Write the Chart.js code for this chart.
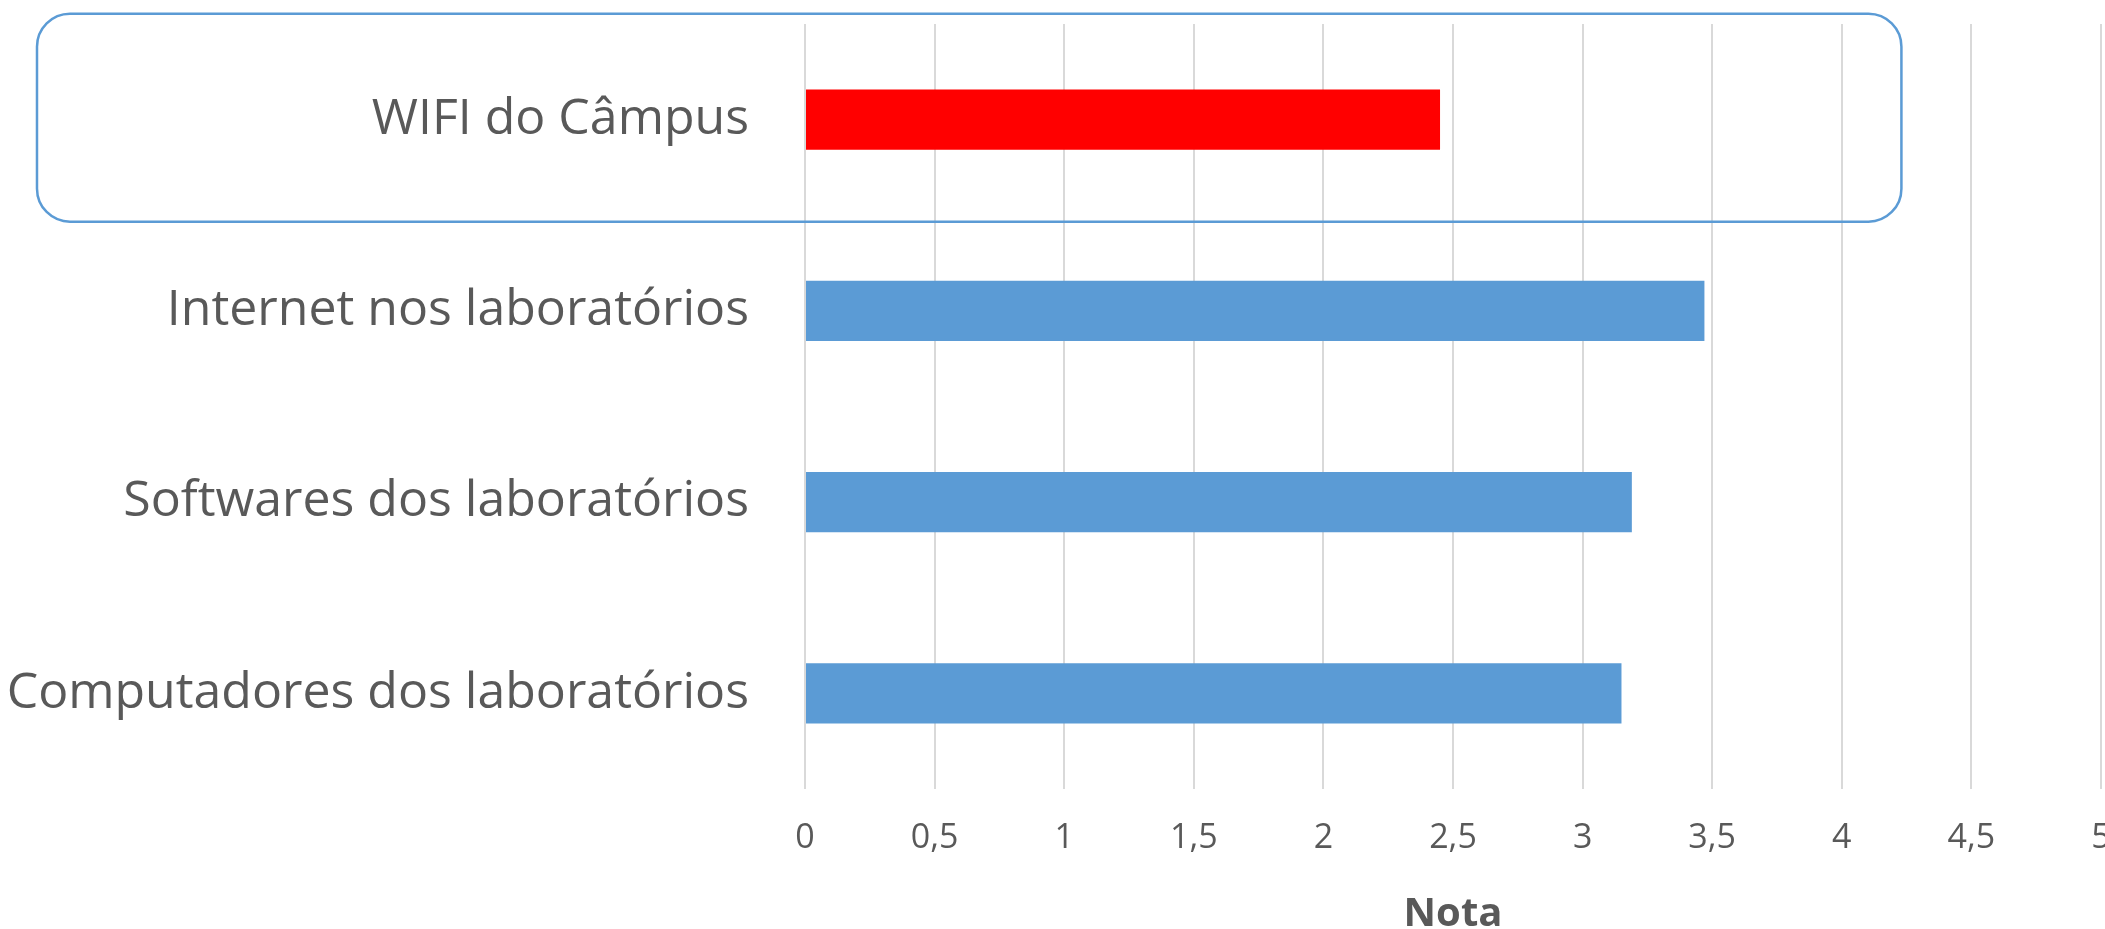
<!DOCTYPE html>
<html>
<head>
<meta charset="utf-8">
<script src="https://cdn.jsdelivr.net/npm/chart.js@4.4.0/dist/chart.umd.min.js"></script>
<style>
  html, body { margin: 0; padding: 0; background: #fff; }
  #wrap { width: 2105px; height: 929px; position: relative; }
</style>
</head>
<body>
<div id="wrap"><canvas id="notas_graph"></canvas></div>
<script>
// categorias e notas
const categorias = ['WIFI do Câmpus', 'Internet nos laboratórios', 'Softwares dos laboratórios', 'Computadores dos laboratórios'];
const notas = [2.45, 3.47, 3.19, 3.15];
const cores = ['#FF0000', '#5B9BD5', '#5B9BD5', '#5B9BD5'];
const ticksX = [0, 0.5, 1, 1.5, 2, 2.5, 3, 3.5, 4, 4.5, 5];
const tituloX = 'Nota';

const texto = '#595959';

// caixa arredondada em volta da categoria destacada
const destaque = {
    id: 'destaque',
    afterDraw(chart) {
        let ctx = chart.ctx;
        let y = chart.scales.y;
        let x = chart.scales.x;
        let cy = y.getPixelForValue(0);
        let half = 104;
        let left = 37;
        let right = x.getPixelForValue(4.23);
        ctx.save();
        ctx.strokeStyle = '#5B9BD5';
        ctx.lineWidth = 2.5;
        ctx.beginPath();
        ctx.roundRect(left, cy - half - 2, right - left, half * 2, 33);
        ctx.stroke();
        ctx.restore();
    }
};

let chart = new Chart(document.getElementById('notas_graph'), {
    type: 'bar',
    data: {
        labels: categorias,
        datasets: [{
            data: notas,
            backgroundColor: cores,
            borderWidth: 0,
            barPercentage: 0.314,
            categoryPercentage: 1
        }]
    },
    options: {
        indexAxis: 'y',
        responsive: true,
        maintainAspectRatio: false,
        animation: false,
        layout: { padding: { top: 24, right: 4, left: 0, bottom: 0 } },
        plugins: {
            legend: { display: false },
            tooltip: { enabled: false }
        },
        scales: {
            x: {
                min: 0,
                max: 5,
                afterBuildTicks(scale) {
                    scale.ticks = ticksX.map(v => ({ value: v }));
                },
                afterFit(scale) {
                    scale.height = 140;
                    scale.paddingLeft = 0;
                    scale.paddingRight = 0;
                },
                ticks: {
                    color: texto,
                    font: { family: 'Open Sans', size: 34 },
                    padding: 29,
                    maxRotation: 0,
                    autoSkip: false,
                    callback: v => String(v).replace('.', ',')
                },
                grid: { color: '#D9D9D9', lineWidth: 2, drawTicks: false },
                border: { display: false },
                title: {
                    display: true,
                    text: tituloX,
                    color: texto,
                    font: { family: 'Open Sans', size: 40, weight: 'bold', lineHeight: 0.7 },
                    padding: { top: 0, bottom: 0 }
                }
            },
            y: {
                afterFit(scale) {
                    scale.width = 805;
                    scale.paddingTop = 0;
                    scale.paddingBottom = 0;
                },
                ticks: {
                    color: texto,
                    font: { family: 'Open Sans', size: 50 },
                    padding: 56
                },
                grid: { display: false, drawTicks: false },
                border: { display: false }
            }
        }
    },
    plugins: [destaque]
});
</script>
</body>
</html>
